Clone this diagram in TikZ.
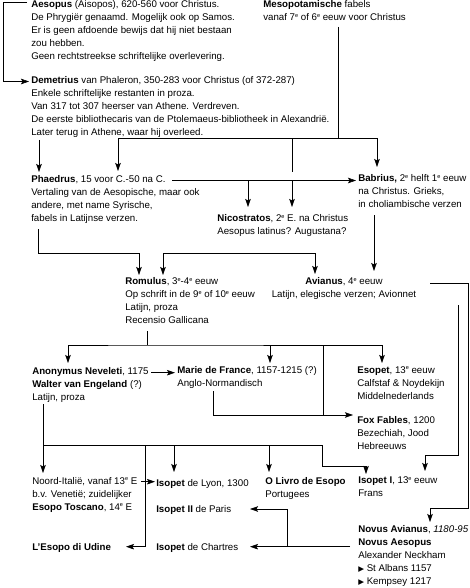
\documentclass[tikz,border=0pt]{standalone}
\usepackage{fontspec}
\setmainfont{Liberation Sans}
\newfontfamily\symfont{DejaVu Sans}
\usetikzlibrary{arrows.meta}
\tikzset{
  txt/.style={anchor=north west, yshift=9.1pt, align=left, inner sep=0pt,
    font=\fontsize{9.7}{13}\selectfont, execute at begin node=\strut},
  arr/.style={-{Stealth[length=8pt,width=5.5pt,inset=1.5pt]}},
  arrs/.style={{Stealth[length=8pt,width=5.5pt,inset=1.5pt]}-{Stealth[length=8pt,width=5.5pt,inset=1.5pt]}},
}
\newcommand{\supe}{\raisebox{3.6pt}{\fontsize{5.5}{5.5}\selectfont e}}
\newcommand{\tri}{{\symfont\fontsize{7.5}{7.5}\selectfont ▶}}
\begin{document}
\begin{tikzpicture}[x=1pt, y=-1pt, line width=0.6pt]
        \useasboundingbox (0,0) rectangle (470,588);
        % text blocks
        \node[txt] (aesopus) at (31, 9.5) {\textbf{Aesopus} (Aisopos), 620-560 voor Christus.\\De Phrygiër genaamd. Mogelijk ook op Samos.\\Er is geen afdoende bewijs dat hij niet bestaan\\zou hebben.\\Geen rechtstreekse schriftelijke overlevering.};
        \node[txt] (meso) at (263, 9.5) {\textbf{Mesopotamische} fabels\\vanaf 7\supe{} of 6\supe{} eeuw voor Christus};
        \node[txt] (demetrius) at (31, 85) {\textbf{Demetrius} van Phaleron, 350-283 voor Christus (of 372-287)\\Enkele schriftelijke restanten in proza.\\Van 317 tot 307 heerser van Athene. Verdreven.\\De eerste bibliothecaris van de Ptolemaeus-bibliotheek in Alexandrië.\\Later terug in Athene, waar hij overleed.};
        \node[txt] (phaedrus) at (31, 184.5) {\textbf{Phaedrus}, 15 voor C.-50 na C.\\Vertaling van de Aesopische, maar ook\\andere, met name Syrische,\\fabels in Latijnse verzen.};
        \node[txt] (babrius) at (358, 183.5) {\textbf{Babrius,} 2\supe{} helft 1\supe{} eeuw\\na Christus. Grieks,\\in choliambische verzen};
        \node[txt] (nicostratos) at (217, 223.5) {\textbf{Nicostratos}, 2\supe{} E. na Christus\\Aesopus latinus? Augustana?};
        \node[txt] (romulus) at (125, 286.5) {\textbf{Romulus}, 3\supe-4\supe{} eeuw\\Op schrift in de 9\supe{} of 10\supe{} eeuw\\Latijn, proza\\Recensio Gallicana};
        \node[txt, anchor=north, align=center] (avianus) at (344, 286.5) {\textbf{Avianus}, 4\supe{} eeuw\\Latijn, elegische verzen; Avionnet};
        \node[txt] (anonymus) at (32, 376) {\textbf{Anonymus Neveleti}, 1175\\\textbf{Walter van Engeland} (?)\\Latijn, proza};
        \node[txt] (marie) at (177, 375.5) {\textbf{Marie de France}, 1157-1215 (?)\\Anglo-Normandisch};
        \node[txt] (esopet) at (357, 375.5) {\textbf{Esopet}, 13\supe{} eeuw\\Calfstaf \& Noydekijn\\Middelnederlands};
        \node[txt] (fox) at (357, 425) {\textbf{Fox Fables}, 1200\\Bezechiah, Jood\\Hebreeuws};
        \node[txt] (noord) at (32, 486) {Noord-Italië, vanaf 13\supe{} E\\b.v. Venetië; zuidelijker\\\textbf{Esopo Toscano}, 14\supe{} E};
        \node[txt] (udine) at (32, 550) {\textbf{L’Esopo di Udine}};
        \node[txt] (lyon) at (156, 486) {\textbf{Isopet} de Lyon, 1300};
        \node[txt] (paris) at (156, 512) {\textbf{Isopet II} de Paris};
        \node[txt] (chartres) at (156, 550) {\textbf{Isopet} de Chartres};
        \node[txt] (livro) at (265, 486) {\textbf{O Livro de Esopo}\\Portugees};
        \node[txt] (isopetI) at (358, 486) {\textbf{Isopet I}, 13\supe{} eeuw\\Frans};
        \node[txt] (novus) at (358, 534) {\textbf{Novus Avianus}, \textit{1180-95}\\\textbf{Novus Aesopus}\\Alexander Neckham\\\tri\ St Albans 1157\\\tri\ Kempsey 1217};
        % connector points
        \coordinate (aesL) at (27, 2) {};
        \coordinate (demL) at (29, 81.5) {};
        \coordinate (demS) at (39, 140) {};
        \coordinate (phaN) at (39, 172) {};
        \coordinate (mesoS) at (338, 27) {};
        \coordinate (mesoJ) at (338, 138.5) {};
        \coordinate (phaN2) at (118, 171) {};
        \coordinate (babN) at (377, 167) {};
        \coordinate (nicoJ) at (292, 172) {};
        \coordinate (phaE) at (172, 180.5) {};
        \coordinate (babW) at (356, 180.5) {};
        \coordinate (nicoA) at (248, 207) {};
        \coordinate (nicoB) at (292, 207) {};
        \coordinate (babS) at (374, 215) {};
        \coordinate (aviN) at (374, 271) {};
        \coordinate (phaS) at (38, 229) {};
        \coordinate (romJ) at (139, 253) {};
        \coordinate (romN) at (139, 275) {};
        \coordinate (romN2) at (163, 275) {};
        \coordinate (aviN2) at (315, 274) {};
        \coordinate (aviE) at (430, 283) {};
        \coordinate (novJ) at (430, 508) {};
        \coordinate (novN) at (430, 522) {};
        \coordinate (aviR) at (458, 305) {};
        \coordinate (isoJ2) at (425, 455) {};
        \coordinate (isoN2) at (425, 471) {};
        \coordinate (romS) at (147, 331) {};
        \coordinate (romJ2) at (147, 345) {};
        \coordinate (anoN) at (68, 363) {};
        \coordinate (marN) at (270, 363) {};
        \coordinate (esoN) at (382, 363) {};
        \coordinate (foxJ) at (323, 415) {};
        \coordinate (anoE) at (151, 372.7) {};
        \coordinate (marW) at (175, 372.7) {};
        \coordinate (marS) at (213, 391) {};
        \coordinate (foxW) at (353, 415) {};
        \coordinate (anoS) at (43, 404) {};
        \coordinate (botJ) at (43, 445) {};
        \coordinate (noordN) at (43, 473) {};
        \coordinate (isoJ) at (322, 466) {};
        \coordinate (isoN) at (366, 474) {};
        \coordinate (lyonN) at (174, 472) {};
        \coordinate (livroN) at (269, 472) {};
        \coordinate (udT) at (145, 445) {};
        \coordinate (udE) at (126, 546.7) {};
        \coordinate (noordE) at (141, 481.7) {};
        \coordinate (lyonW) at (155, 481.7) {};
        \coordinate (novW) at (350, 546.7) {};
        \coordinate (parJ) at (287, 546.7) {};
        \coordinate (parE) at (250, 509) {};
        \coordinate (chaE) at (250, 546.7) {};
        % connectors
        \draw[arr] (aesL)--++(-24,0)|-(demL);
        \draw[arr] (demS)--(phaN);
        \draw (mesoS)--(mesoJ);
        \draw[arrs] (phaN2)|-(mesoJ)-|(babN);
        \draw (nicoJ |- mesoJ)--(nicoJ);
        \draw[arr] (phaE)--(babW);
        \draw[arr] (nicoA |- phaE)--(nicoA);
        \draw[arr] (nicoB |- phaE)--(nicoB);
        \draw[arr] (babS)--(aviN);
        \draw[arr] (phaS)|-(romJ)--(romN);
        \draw[arrs] (romN2)--(romN2 |- romJ)-|(aviN2);
        \draw[arr] (aviE)--++(38,0)|-(novJ)--(novN);
        \draw[arr] (aviR)|-(isoJ2)--(isoN2);
        \draw (romS)--(romJ2);
        \draw[arrs] (anoN)|-(romJ2)-|(esoN);
        \draw[arr] (marN |- romJ2)--(marN);
        \draw (foxJ |- romJ2)--(foxJ);
        \draw[arr] (anoE)--(marW);
        \draw[arr] (marS)|-(foxW);
        \draw[arr] (anoS)--(noordN);
        \draw[arr] (botJ)-|(isoJ)-|(isoN);
        \draw[arr] (lyonN |- botJ)--(lyonN);
        \draw[arr] (livroN |- botJ)--(livroN);
        \draw[arr] (udT)|-(udE);
        \draw[arr] (noordE)--(lyonW);
        \draw[arr] (novW)--(chaE);
        \draw[arr] (parJ)|-(parE);
\end{tikzpicture}
\end{document}
